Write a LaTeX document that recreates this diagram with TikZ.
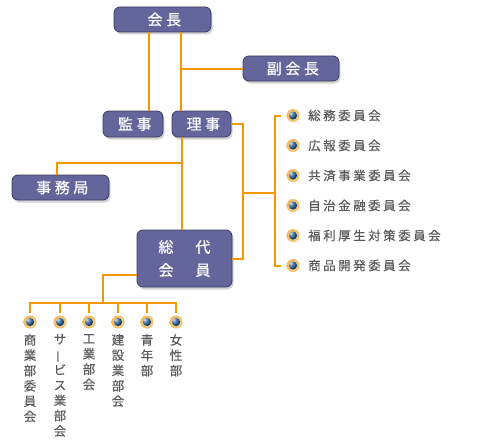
\documentclass[tikz,border=0pt]{standalone}
\usepackage{fontspec}
\newfontfamily\jpbox[LetterSpace=24,FakeBold=0.6]{Noto Sans CJK JP}
\newfontfamily\jpboxb[FakeBold=0.6]{Noto Sans CJK JP}
\newfontfamily\jplist[LetterSpace=20,FakeBold=0.3]{Noto Sans CJK JP}
\newfontfamily\jp[FakeBold=0.3]{Noto Sans CJK JP}
\usetikzlibrary{shadows,calc}
\definecolor{org}{HTML}{F39800}
\definecolor{boxfill}{HTML}{64659B}
\definecolor{boxline}{HTML}{3A3A62}
\definecolor{txtgray}{HTML}{5A5A5A}
\definecolor{gold}{HTML}{F2C266}
\definecolor{ballblue}{HTML}{1E5A96}
\newcommand\tk{\kern-3.6pt}
\begin{document}
\begin{tikzpicture}[x=1pt,y=-1pt,
  post/.style={draw=boxline, line width=0.8pt, fill=boxfill, rounded corners=6pt,
    text=white, font=\jpbox\fontsize{15}{19}\selectfont, inner sep=0pt,
    drop shadow={shadow xshift=1.5pt, shadow yshift=-2.5pt, opacity=0.35}},
  wire/.style={draw=org, line width=2pt},
  bullet/.style={circle, minimum size=13pt, inner sep=0pt,
    inner color=gold!40!white, outer color=gold!85!orange,
    path picture={\shade[ball color=ballblue] (path picture bounding box.center) circle (4.1pt);}},
  item/.style={anchor=west, inner sep=0pt, text=txtgray, font=\jplist\fontsize{12.5}{15}\selectfont},
  vtext/.style={anchor=north, inner sep=0pt, align=center, text=txtgray, font=\jp\fontsize{12.5}{15.3}\selectfont}
]
\useasboundingbox (0,0) rectangle (484,444);

% boxes
\node[post, minimum width=97, minimum height=25] (kaicho) at (162.5,19.5) {会長\tk};
\node[post, minimum width=96, minimum height=25] (fuku) at (291,68.5) {副会長\tk};
\node[post, minimum width=60, minimum height=26] (kanji) at (133,124) {監事\tk};
\node[post, minimum width=59, minimum height=26] (riji) at (201.5,124) {理事\tk};
\node[post, minimum width=97, minimum height=25] (jimu) at (60.5,187.5) {事務局\tk};
\node[post, minimum width=95, minimum height=57, align=center,
      font=\jpboxb\fontsize{15}{23}\selectfont] (sodai) at (184.5,258.5)
      {総\hspace{22pt}代\\会\hspace{22pt}員};

% committees
\foreach \i/\t in {1/総務委員会,2/広報委員会,3/共済事業委員会,4/自治金融委員会,5/福利厚生対策委員会,6/商品開発委員会}{
  \node[bullet] (c\i) at (293,{85.5+30*\i}) {};
  \node[item] (ct\i) at (308,{85.5+30*\i}) {\t};
}

% bottom sections
\node[bullet] (b1) at (30,322) {};
\node[bullet] (b2) at (60,322) {};
\node[bullet] (b3) at (89,322) {};
\node[bullet] (b4) at (118,322) {};
\node[bullet] (b5) at (147,322) {};
\node[bullet] (b6) at (176,322) {};
\node[vtext] (v1) at (30,334) {商\\業\\部\\委\\員\\会};
\node[vtext] (v2) at (60,334) {サ\\\rotatebox[origin=c]{90}{ー}\\ビ\\ス\\業\\部\\会};
\node[vtext] (v3) at (89,334) {工\\業\\部\\会};
\node[vtext] (v4) at (118,334) {建\\設\\業\\部\\会};
\node[vtext] (v5) at (147,334) {青\\年\\部};
\node[vtext] (v6) at (176,334) {女\\性\\部};

% connectors
\draw[wire] ([xshift=35]kaicho.south west) -- ([xshift=35]kaicho.south west |- kanji.north);
\draw[wire] ([xshift=67]kaicho.south west) -- ([xshift=67]kaicho.south west |- riji.north);
\coordinate (j1) at ([xshift=67]kaicho.south west |- fuku.west);
\draw[wire] (j1) -- (fuku.west);
\draw[wire] ([xshift=10]riji.south west) -- ([xshift=10]riji.south west |- sodai.north);
\coordinate (j2) at ($(riji.south west)+(10,26)$);
\draw[wire] (j2) -| ([xshift=45]jimu.north west);
\coordinate (rx) at ([xshift=12]riji.east);
\draw[wire] (riji.east) -- (rx) |- (sodai.east);
\coordinate (cb) at (275,193);
\draw[wire] (rx |- cb) -- (cb);
\draw[wire] ([xshift=-5]c1.west) -| (cb) |- ([xshift=-5]c6.west);
\coordinate (bx) at (103,303);
\draw[wire] ([yshift=12]sodai.south west) -| (bx);
\draw[wire] ([yshift=2]b1.north) |- (bx) -| ([yshift=2]b6.north);
\foreach \i in {2,3,4,5}{
  \draw[wire] ([yshift=2]b\i.north) -- (b\i.north |- bx);
}
\end{tikzpicture}
\end{document}
